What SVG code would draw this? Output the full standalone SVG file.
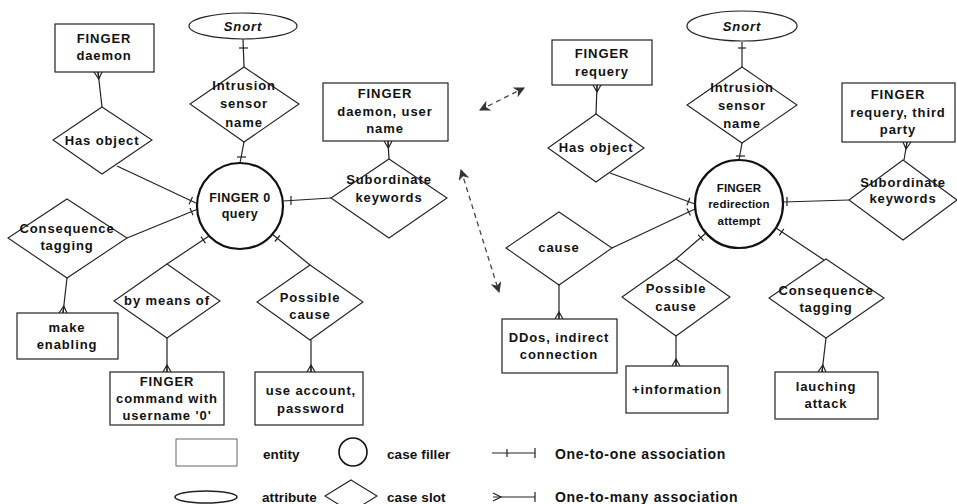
<svg xmlns="http://www.w3.org/2000/svg" width="957" height="504" viewBox="0 0 957 504">
  <style>
    .ent { fill: #fff; stroke: #222; stroke-width: 1.2; }
    .slot { fill: #fff; stroke: #222; stroke-width: 1.1; }
    .filler { fill: #fff; stroke: #111; stroke-width: 2.2; }
    .attr { fill: #fff; stroke: #222; stroke-width: 1.2; }
    .ln { fill: none; stroke: #222; stroke-width: 1.2; }
    .tk { fill: none; stroke: #222; stroke-width: 1.2; }
    .dash { fill: none; stroke: #444; stroke-width: 1.3; stroke-dasharray: 5 4; }
    text { font-family: "Liberation Sans", Arial, sans-serif; font-weight: bold; fill: #111; }
    .t { font-size: 13px; text-anchor: middle; letter-spacing: 0.9px; }
    .tc { font-size: 12.5px; text-anchor: middle; letter-spacing: 0.5px; }
    .ts { font-size: 11.5px; text-anchor: middle; letter-spacing: 0.2px; }
    .it { font-style: italic; }
    .lg { font-size: 13.5px; letter-spacing: 0.1px; }
    .lw { font-size: 14px; letter-spacing: 0.7px; }
  </style>
  <defs>
    <marker id="head" viewBox="0 0 10 10" refX="9" refY="5" markerWidth="11" markerHeight="11" markerUnits="userSpaceOnUse" orient="auto-start-reverse">
      <path d="M0,0 L10,5 L0,10 L3,5 Z" fill="#333"/>
    </marker>
  </defs>

  <!-- connectors: lines, one-ticks and crow's feet -->
  <g id="connectors">
    <!-- left network -->
    <path class="ln" d="M243,39 L244,67"/>
    <path class="tk" d="M239,48 L248,48"/>
    <path class="ln" d="M244,142 L240,163"/>
    <path class="tk" d="M237,157 L246,157"/>
    <path class="ln" d="M98,72 L102,107"/>
    <path class="tk" d="M94,72 L98.8,79 L102,72 M98,72 L98.8,79"/>
    <path class="ln" d="M117,166 L198,204"/>
    <path class="tk" d="M192.5,197 L189.1,204.2"/>
    <path class="ln" d="M127,238 L198,209"/>
    <path class="tk" d="M190,207.9 L193,215.3"/>
    <path class="ln" d="M67,278 L63,313"/>
    <path class="tk" d="M59,313 L63.8,306 L67,313 M63,313 L63.8,306"/>
    <path class="ln" d="M167,264 L209,236"/>
    <path class="tk" d="M201,236.6 L205.4,243.2"/>
    <path class="ln" d="M167,338 L167,372"/>
    <path class="tk" d="M163,372 L167,365 L171,372 M167,372 L167,365"/>
    <path class="ln" d="M310,265 L272,234"/>
    <path class="tk" d="M279.9,235.3 L274.9,241.5"/>
    <path class="ln" d="M311,340 L311,372"/>
    <path class="tk" d="M307,372 L311,365 L315,372 M311,372 L311,365"/>
    <path class="ln" d="M283,201 L331,198"/>
    <path class="tk" d="M291,196 L291,205"/>
    <path class="ln" d="M388,141 L389,159"/>
    <path class="tk" d="M384,141 L388.4,148 L392,141 M388,141 L388.4,148"/>

    <!-- right network -->
    <path class="ln" d="M742,42 L742,67"/>
    <path class="tk" d="M738,48 L746,48"/>
    <path class="ln" d="M742,143 L739,160"/>
    <path class="tk" d="M736,156 L745,156"/>
    <path class="ln" d="M597,85 L596,114"/>
    <path class="tk" d="M593,85 L597,92 L601,85 M597,85 L597,92"/>
    <path class="ln" d="M610,173 L695,204"/>
    <path class="tk" d="M689.8,197.8 L687,205.4"/>
    <path class="ln" d="M612,248 L695,209"/>
    <path class="tk" d="M687,208.4 L690.4,215.6"/>
    <path class="ln" d="M559,285 L559,319"/>
    <path class="tk" d="M555,319 L559,312 L563,319 M559,319 L559,312"/>
    <path class="ln" d="M676,259 L706,233"/>
    <path class="tk" d="M698.1,234.7 L703.5,240.7"/>
    <path class="ln" d="M676,336 L676,366"/>
    <path class="tk" d="M672,366 L676,359 L680,366 M676,366 L676,359"/>
    <path class="ln" d="M824,260 L776,228"/>
    <path class="tk" d="M783.8,228.8 L779.4,235.4"/>
    <path class="ln" d="M826,338 L822,372"/>
    <path class="tk" d="M818,372 L822.8,365 L826,372 M822,372 L822.8,365"/>
    <path class="ln" d="M783,202 L849,200"/>
    <path class="tk" d="M787,197 L787,206"/>
    <path class="ln" d="M907,142 L904,160"/>
    <path class="tk" d="M903,142 L906,149 L911,142 M907,142 L906,149"/>

    <!-- dashed correspondences between the two networks -->
    <path class="dash" d="M480,110 L524,88" marker-start="url(#head)" marker-end="url(#head)"/>
    <path class="dash" d="M461,170 L499,292" marker-start="url(#head)" marker-end="url(#head)"/>
  </g>

  <!-- left network nodes -->
  <g id="l-snort">
    <ellipse class="attr" cx="243" cy="26" rx="54" ry="13"/>
    <text class="t it" x="243" y="31">Snort</text>
  </g>
  <g id="l-daemon">
    <rect class="ent" x="55" y="24" width="99" height="48"/>
    <text class="t" x="104" y="43">FINGER</text>
    <text class="t" x="104" y="60">daemon</text>
  </g>
  <g id="l-sensor">
    <polygon class="slot" points="244,67 299,104 244,142 190,104"/>
    <text class="t" x="244" y="90">Intrusion</text>
    <text class="t" x="244" y="108">sensor</text>
    <text class="t" x="244" y="127">name</text>
  </g>
  <g id="l-hasobject">
    <polygon class="slot" points="102,107 152,140 102,174 53,140"/>
    <text class="t" x="102" y="145">Has object</text>
  </g>
  <g id="l-query">
    <circle class="filler" cx="240" cy="206" r="43"/>
    <text class="tc" x="240" y="202">FINGER 0</text>
    <text class="tc" x="240" y="218">query</text>
  </g>
  <g id="l-consequence">
    <polygon class="slot" points="67,199 127,238 67,278 8,238"/>
    <text class="t" x="67" y="233">Consequence</text>
    <text class="t" x="67" y="250">tagging</text>
  </g>
  <g id="l-enabling">
    <rect class="ent" x="17" y="313" width="101" height="46"/>
    <text class="t" x="67" y="332">make</text>
    <text class="t" x="67" y="349">enabling</text>
  </g>
  <g id="l-bymeans">
    <polygon class="slot" points="167,264 220,301 167,338 114,301"/>
    <text class="t" x="167" y="305">by means of</text>
  </g>
  <g id="l-command">
    <rect class="ent" x="110" y="372" width="114" height="53"/>
    <text class="t" x="167" y="386">FINGER</text>
    <text class="t" x="167" y="403">command with</text>
    <text class="t" x="167" y="420">username '0'</text>
  </g>
  <g id="l-possible">
    <polygon class="slot" points="310,265 363,302 310,340 257,302"/>
    <text class="t" x="310" y="302">Possible</text>
    <text class="t" x="310" y="319">cause</text>
  </g>
  <g id="l-account">
    <rect class="ent" x="255" y="372" width="108" height="53"/>
    <text class="t" x="311" y="395">use account,</text>
    <text class="t" x="311" y="413">password</text>
  </g>
  <g id="l-username">
    <rect class="ent" x="323" y="83" width="125" height="58"/>
    <text class="t" x="385" y="98">FINGER</text>
    <text class="t" x="385" y="116">daemon, user</text>
    <text class="t" x="385" y="133">name</text>
  </g>
  <g id="l-subordinate">
    <polygon class="slot" points="389,159 447,198 389,238 331,198"/>
    <text class="t" x="389" y="184">Subordinate</text>
    <text class="t" x="389" y="202">keywords</text>
  </g>

  <!-- right network nodes -->
  <g id="r-snort">
    <ellipse class="attr" cx="742" cy="26" rx="55" ry="15"/>
    <text class="t it" x="742" y="31">Snort</text>
  </g>
  <g id="r-requery">
    <rect class="ent" x="552" y="40" width="100" height="45"/>
    <text class="t" x="602" y="58">FINGER</text>
    <text class="t" x="602" y="76">requery</text>
  </g>
  <g id="r-sensor">
    <polygon class="slot" points="742,67 797,105 742,143 687,105"/>
    <text class="t" x="742" y="92">Intrusion</text>
    <text class="t" x="742" y="110">sensor</text>
    <text class="t" x="742" y="128">name</text>
  </g>
  <g id="r-hasobject">
    <polygon class="slot" points="596,114 644,148 596,182 548,148"/>
    <text class="t" x="596" y="152">Has object</text>
  </g>
  <g id="r-redirection">
    <circle class="filler" cx="739" cy="204" r="44"/>
    <text class="ts" x="739" y="192">FINGER</text>
    <text class="ts" x="739" y="208">redirection</text>
    <text class="ts" x="739" y="225">attempt</text>
  </g>
  <g id="r-thirdparty">
    <rect class="ent" x="842" y="83" width="113" height="59"/>
    <text class="t" x="898" y="99">FINGER</text>
    <text class="t" x="898" y="117">requery, third</text>
    <text class="t" x="898" y="134">party</text>
  </g>
  <g id="r-subordinate">
    <polygon class="slot" points="903,160 957,200 903,240 849,200"/>
    <text class="t" x="903" y="187">Subordinate</text>
    <text class="t" x="903" y="203">keywords</text>
  </g>
  <g id="r-cause">
    <polygon class="slot" points="559,212 612,248 559,285 506,248"/>
    <text class="t" x="559" y="252">cause</text>
  </g>
  <g id="r-ddos">
    <rect class="ent" x="502" y="319" width="115" height="54"/>
    <text class="t" x="559" y="342">DDos, indirect</text>
    <text class="t" x="559" y="359">connection</text>
  </g>
  <g id="r-possible">
    <polygon class="slot" points="676,259 730,297 676,336 622,297"/>
    <text class="t" x="676" y="293">Possible</text>
    <text class="t" x="676" y="311">cause</text>
  </g>
  <g id="r-information">
    <rect class="ent" x="626" y="366" width="102" height="47"/>
    <text class="t" x="677" y="394">+information</text>
  </g>
  <g id="r-consequence">
    <polygon class="slot" points="826,259 884,298 826,338 769,298"/>
    <text class="t" x="826" y="295">Consequence</text>
    <text class="t" x="826" y="312">tagging</text>
  </g>
  <g id="r-attack">
    <rect class="ent" x="775" y="372" width="103" height="47"/>
    <text class="t" x="826" y="391">lauching</text>
    <text class="t" x="826" y="408">attack</text>
  </g>

  <!-- legend -->
  <g id="legend">
    <rect class="ent" x="176" y="439" width="61" height="27" style="stroke:#666;stroke-width:1"/>
    <text class="lg" x="263" y="459">entity</text>
    <circle class="filler" cx="353" cy="452" r="14" style="stroke-width:1.6"/>
    <text class="lg" x="387" y="459">case filler</text>
    <path class="ln" d="M492,453 L535,453"/>
    <path class="tk" d="M507,449 L507,457 M535,448 L535,458"/>
    <text class="lw" x="555" y="459">One-to-one association</text>

    <ellipse class="attr" cx="206" cy="497" rx="31" ry="6" style="stroke-width:1.6"/>
    <text class="lg" x="262" y="502">attribute</text>
    <polygon class="slot" points="351,480 377,496 351,512 325,496"/>
    <text class="lg" x="387" y="502">case slot</text>
    <path class="ln" d="M493,497 L535,497"/>
    <path class="tk" d="M493,493 L501,497 L493,501 M535,492 L535,502"/>
    <text class="lw" x="555" y="502">One-to-many association</text>
  </g>
</svg>
